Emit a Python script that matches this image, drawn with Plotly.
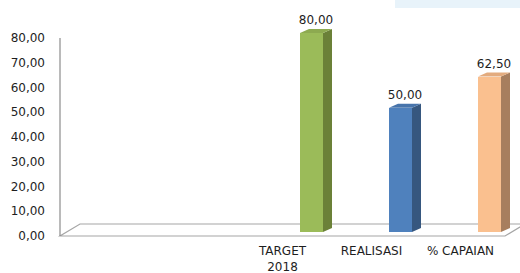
import plotly.graph_objects as go

# ---- data ----
categories = ["", " ", "TARGET<br>2018", "REALISASI", "% CAPAIAN"]
bar_categories = ["TARGET<br>2018", "REALISASI", "% CAPAIAN"]
values = [80.00, 50.00, 62.50]
front_colors = ["#9BBB59", "#4F81BD", "#FAC08F"]
side_colors = ["#6B8138", "#36577F", "#A77E5E"]
top_colors = ["#8DAA50", "#4774AB", "#E3AB7E"]
y_ticks = [0, 10, 20, 30, 40, 50, 60, 70, 80]

# ---- geometry (pixel-derived layout constants) ----
W, H = 520, 273
L, R, T, B = 50, 0, 20, 33
px_per_cat = 89.0
x0 = -0.5 - (60 - L) / px_per_cat
x1 = x0 + (W - L - R) / px_per_cat
plot_h = H - T - B
ppu1 = 2.475   # px per unit axis 1
zero1 = 236    # px of 0 on axis 1
ppu2 = 2.4875
zero2 = 232
y1_range = [-(T + plot_h - zero1) / ppu1, (zero1 - T) / ppu1]
y2_range = [-(T + plot_h - zero2) / ppu2, (zero2 - T) / ppu2]

bar_w = 23 / px_per_cat
shift = 29 / px_per_cat
dx = 9 / px_per_cat
dy = 4 / ppu2
label_gap = 2 / ppu2
floor_dx = 20 / px_per_cat
floor_dy = 12 / ppu1
text_color = "#1E1E1E"

fig = go.Figure()

pos = [categories.index(c) + shift for c in bar_categories]

for p, v, fc, sc, tc in zip(pos, values, front_colors, side_colors, top_colors):
    l, r = p - bar_w / 2, p + bar_w / 2
    # side face
    fig.add_trace(go.Scatter(
        x=[r, r + dx, r + dx, r, r], y=[0, dy, v + dy, v, 0],
        mode="lines", fill="toself", fillcolor=sc, line=dict(width=0, color=sc),
        yaxis="y2", hoverinfo="skip", showlegend=False))
    # top face
    fig.add_trace(go.Scatter(
        x=[l, r, r + dx, l + dx, l], y=[v, v, v + dy, v + dy, v],
        mode="lines", fill="toself", fillcolor=tc, line=dict(width=0, color=tc),
        yaxis="y2", hoverinfo="skip", showlegend=False))

fig.add_trace(go.Bar(
    x=pos, y=values, width=bar_w, marker=dict(color=front_colors, line=dict(width=0)),
    yaxis="y2", showlegend=False, hoverinfo="skip"))

fig.add_trace(go.Scatter(
    x=[p + dx / 2 for p in pos], y=[v + dy + label_gap for v in values],
    mode="text", text=[f"{v:.2f}".replace(".", ",") for v in values],
    textposition="top center", textfont=dict(size=12, color=text_color),
    yaxis="y2", cliponaxis=False, showlegend=False, hoverinfo="skip"))

shapes = [
    # floor
    dict(type="path", xref="x", yref="y",
         path=f"M {-0.5} 0 L {len(categories) - 0.5} 0 L {len(categories) - 0.5 + floor_dx} {floor_dy} "
              f"L {-0.5 + floor_dx} {floor_dy} Z",
         line=dict(color="#A6A6A6", width=1.2), fillcolor="white", layer="below"),
    # vertical axis line
    dict(type="line", xref="x", yref="y", x0=-0.5, x1=-0.5, y0=0, y1=max(y_ticks),
         line=dict(color="#8C8C8C", width=1.2), layer="below"),
    # faint background artifact top right
    dict(type="rect", xref="paper", yref="paper",
         x0=(395 - L) / (W - L - R), x1=1.0,
         y0=(T + plot_h - 8) / plot_h, y1=(T + plot_h) / plot_h,
         line=dict(width=0), fillcolor="#E8F3FA", layer="below"),
]

fig.update_layout(
    width=W, height=H,
    margin=dict(l=L, r=R, t=T, b=B, autoexpand=False),
    paper_bgcolor="white", plot_bgcolor="white",
    separators=",.",
    font=dict(family="DejaVu Sans", size=12, color=text_color),
    bargap=0,
    shapes=shapes,
    xaxis=dict(range=[x0, x1], tickvals=list(range(len(categories))), ticktext=categories,
               showgrid=False, zeroline=False, showline=False, ticks="", automargin=False,
               ticklabelstandoff=2, tickfont=dict(size=12, color=text_color)),
    yaxis=dict(range=y1_range, tickvals=y_ticks, tickformat=".2f", automargin=False,
               showgrid=False, zeroline=False, showline=False, ticks="",
               ticklabelstandoff=4, tickfont=dict(size=12, color=text_color)),
    yaxis2=dict(range=y2_range, overlaying="y", visible=False, automargin=False),
)

fig.write_html("out.html", config={"displayModeBar": False},
               post_script="document.body.style.margin='0';")
